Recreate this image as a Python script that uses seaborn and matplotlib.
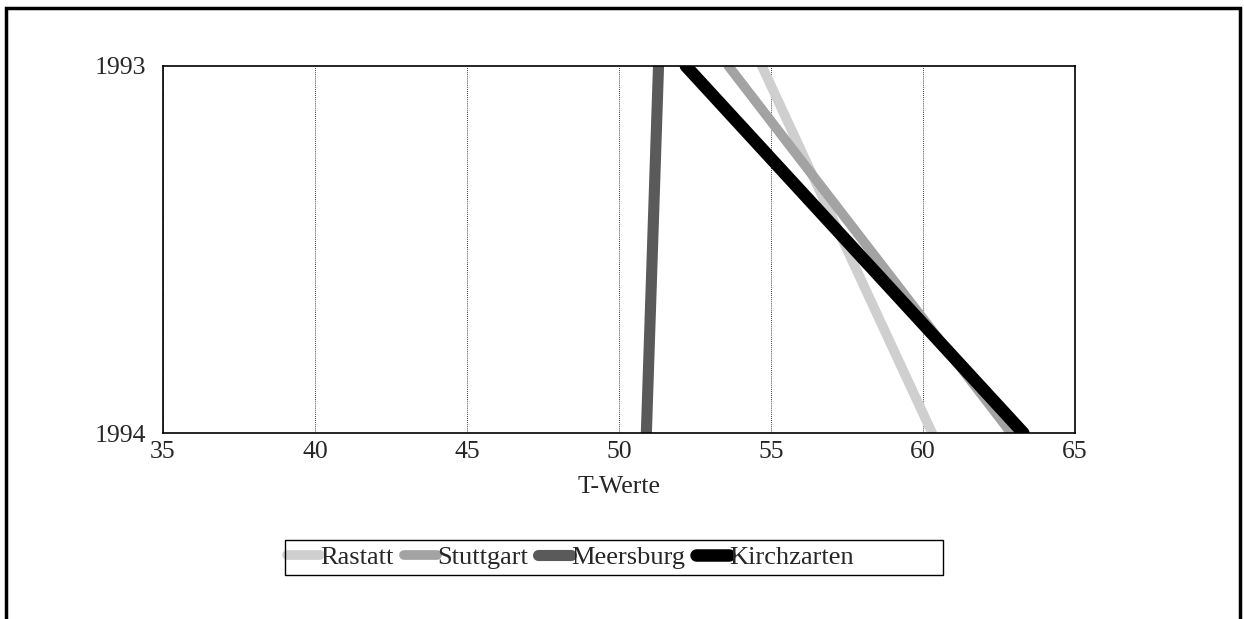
import pandas as pd
import numpy as np
import matplotlib.pyplot as plt
import matplotlib.patches as patches
import seaborn as sns

# values
years = [1993, 1994]
cities = ["Rastatt", "Stuttgart", "Meersburg", "Kirchzarten"]
rastatt = [54.7, 60.3]
stuttgart = [53.6, 62.9]
meersburg = [51.3, 50.9]
kirchzarten = [52.2, 63.3]

colors = {"Rastatt": "#cfcfcf", "Stuttgart": "#a3a3a3", "Meersburg": "#5a5a5a", "Kirchzarten": "#000000"}
widths = {"Rastatt": 7, "Stuttgart": 7, "Meersburg": 8, "Kirchzarten": 9}

df = pd.DataFrame({
    "city": np.repeat(cities, 2),
    "year": years * 4,
    "T": rastatt + stuttgart + meersburg + kirchzarten,
})

sns.set_style("white")
plt.rcParams["font.family"] = ["Liberation Serif", "DejaVu Serif"]

W, H = 1244, 619
fig = plt.figure(figsize=(W / 100, H / 100), dpi=100)
ax = fig.add_axes([163 / W, 1 - 433 / H, 912 / W, 367 / H])

for c in cities:
    sns.lineplot(data=df[df.city == c], x="T", y="year", orient="y", ax=ax,
                 color=colors[c], linewidth=widths[c], label=c,
                 solid_capstyle="round")

ax.set_xlim(35, 65)
ax.set_ylim(1994, 1993)
ax.set_xticks(range(35, 66, 5))
ax.set_yticks(years)
ax.set_yticklabels(["1993", "1994"])
ax.tick_params(axis="both", length=0, labelsize=18.5)
ax.tick_params(axis="y", pad=12)
ax.tick_params(axis="x", pad=6)
ax.xaxis.grid(True, color="black", linestyle=(0, (1, 1.5)), linewidth=0.6)
ax.yaxis.grid(False)
for s in ax.spines.values():
    s.set_color("black")
    s.set_linewidth(1.2)
ax.set_xlabel("T-Werte", fontsize=18.5, labelpad=9)
ax.set_ylabel("")

# legend without its own frame, boxed by a wider rectangle like the original
leg = ax.legend(loc="center left", bbox_to_anchor=(287 / W, 1 - 557 / H),
                bbox_transform=fig.transFigure, ncol=4, frameon=False,
                fontsize=19, handlelength=1.25, handletextpad=0.0, columnspacing=0.4,
                borderpad=0.0, borderaxespad=0.0)
fig.patches.append(patches.Rectangle((285 / W, 1 - 575 / H), 658 / W, 35 / H,
                                     transform=fig.transFigure, fill=False,
                                     edgecolor="black", linewidth=1.0))

fig.patches.append(patches.Rectangle((0.005, -0.05), 0.992, 1.037, transform=fig.transFigure,
                                     fill=False, edgecolor="black", linewidth=2.5))

fig.savefig("out.png", dpi=100)
